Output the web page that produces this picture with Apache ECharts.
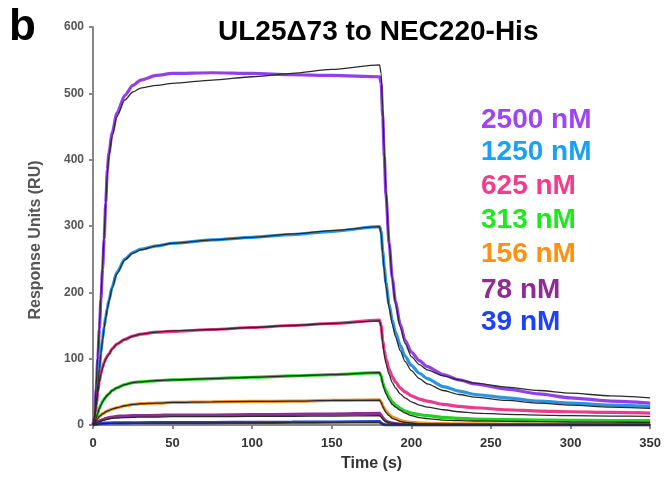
<!DOCTYPE html>
<html>
<head>
<meta charset="utf-8">
<script src="https://cdn.jsdelivr.net/npm/echarts@6/dist/echarts.min.js"></script>
<style>html,body{margin:0;padding:0;background:#fff;}#c{width:664px;height:482px;}</style>
</head>
<body>
<div id="c"></div>
<script>
// Time points (s)
const T = [0,1,2,3,4,5,6,7,8,9,10, 12,15,20,25,30, 40,50,75,100,125,150,180, 181,182,183,184,186,188,190, 193,196,200,205,210, 220,230,240,260,280,300,325,350];

// Concentration labels
const concLabels = ['2500 nM','1250 nM','625 nM','313 nM','156 nM','78 nM','39 nM'];

// Measured responses (RU)
const r2500 = [0,12,55,100,145,190,235,280,335,385,410, 440,470,497,512,520, 527,530,531,530,528,527,525, 515,465,405,348,275,222,186, 152,128,110,97,88, 76,68,62,54,47,41,36,33];
const r1250 = [0,5,30,60,85,110,130,148,163,176,188, 208,230,250,260,265, 270,274,279,283,287,292,299, 292,262,238,215,182,158,140, 120,104,90,78,70, 58,51,46,41,36,33,30,28];
const r625  = [0,10,30,50,66,78,87,94,100,104,107, 115,122,129,134,137, 140,141,144,147,150,153,158, 150,128,112,100,84,73,65, 56,50,44,39,36, 31,28,26,23,21,20,19,18];
const r313  = [0,3,10,18,25,31,35,39,42,45,47, 52,56,61,64,65, 67,68,70,72,74,76,79, 74,64,57,51,42,35,30, 25,21,18,15.5,14, 11.5,10,9,8,7.5,7,6.7,6.5];
const r156  = [0,2,6,10,13,15,17,18,20,21,22, 24,26,29,31,32, 33,34,35,35.5,36,37,38, 35,29,25,21,16,12,10, 7,5,4,3,2.5, 2,1.8,1.6,1.5,1.4,1.3,1.2,1.2];
const r78   = [0,1,3,5,6,7,8,9,10,10.5,11, 12,13,13.5,14,14, 14.5,15,15,15.5,16,16.5,17.5, 15,11,8,6,4,3,2, 1.5,1,0.8,0.6,0.5, 0.5,0.5,0.5,0.5,0.5,0.5,0.5,0.5];
const r39   = [0,0.5,1,1.5,2,2.3,2.5,2.7,2.8,2.9,3, 3.1,3.2,3.3,3.4,3.4, 3.5,3.5,3.7,4,4.2,4.5,5, 3,1.5,0.5,0.2,0,0,0, 0,0,0,0,0, 0,0,0,0,0,0,0,0];

// Fitted curves (RU)
const f2500 = [0,15,60,105,150,195,240,285,335,378,405, 435,465,490,502,508, 512,515,520,525,530,536,543, 530,478,412,355,275,220,182, 148,123,103,91,83, 74,68,63,57,52,48,44,41];
const f1250 = [0,8,32,60,85,108,128,146,161,175,186, 206,228,249,259,264, 270,274,279,283,288,293,299, 288,258,232,210,177,152,133, 112,96,82,70,62, 52,46,42,37,33,30,27,25];
const f625  = [0,9,29,49,65,77,86,93,99,103,107, 114,122,129,134,137, 140,142,144,147,150,153,157, 148,124,106,93,76,64,56, 47,41,35,30,27, 23,20,18,16,15,14,13.5,13];
const f313  = [0,3,10,18,25,30,35,39,42,45,47, 52,56,61,64,65, 67,68,70,72,74,76,79, 73,62,54,47,38,31,27, 22,18,14,11,9.5, 7.5,6.5,6,5.5,5,4.5,4.2,4];
const f156  = [0,2,6,10,13,15,17,18,20,21,22, 24,26,29,31,32, 33,34,35,35.5,36,37,37.5, 34,28,23,19,14,10,8, 5.5,4,3,2,1.5, 1,0.8,0.6,0.5,0.5,0.4,0.4,0.3];
const f78   = [0,1,2.5,4,5,6,7,7.5,8,8.5,9, 10,10.5,11,11.5,12, 12,12.5,12.5,13,13,13.5,14, 12,9,6.5,5,3.5,2.5,2, 1.5,1,0.8,0.6,0.5, 0.4,0.4,0.3,0.3,0.3,0.3,0.3,0.3];
const f39   = [0,0.4,0.8,1.2,1.5,1.8,2,2.1,2.2,2.3,2.4, 2.5,2.6,2.7,2.8,2.8, 2.9,3,3.1,3.3,3.5,3.7,4, 2.5,1.2,0.5,0.2,0.1,0,0, 0,0,0,0,0, 0,0,0,0,0,0,0,0];

const measured = [r2500, r1250, r625, r313, r156, r78, r39];
const fits = [f2500, f1250, f625, f313, f156, f78, f39];

const lineColors = ['#9340EC','#2B95E0','#EC3A8C','#22D022','#F0922A','#8E2E95','#2040E0'];
const labelColors = ['#9E45F5','#1BA0F5','#F53C8C','#1EE81E','#FF9010','#8E2C94','#1E40FF'];

const toPts = arr => T.map((t, i) => [t, arr[i]]);

const series = [];
measured.forEach((arr, k) => {
  series.push({
    name: concLabels[k], type: 'line', data: toPts(arr), showSymbol: false,
    smooth: 0.25, smoothMonotone: 'x',
    lineStyle: { color: lineColors[k], width: 3.2 }, z: 2
  });
});
fits.forEach((arr, k) => {
  series.push({
    name: concLabels[k] + ' fit', type: 'line', data: toPts(arr), showSymbol: false,
    smooth: 0.25, smoothMonotone: 'x',
    lineStyle: { color: '#2a2a2a', width: 1.3 }, z: 3
  });
});

const graphics = [
  { type: 'text', left: 9, top: 6, style: { text: 'b', font: 'bold 44px "Liberation Sans", Arial, sans-serif', fill: '#000' } },
  { type: 'text', x: 36, y: 240, rotation: Math.PI / 2,
    style: { text: 'Response Units (RU)', font: 'bold 16px "Liberation Sans", Arial, sans-serif', fill: '#555', textAlign: 'center', textVerticalAlign: 'middle' } }
];
const legendY = [120, 152, 186, 220, 254, 290, 322];
concLabels.forEach((lab, k) => {
  graphics.push({ type: 'text', x: 481, y: legendY[k],
    style: { text: lab, font: 'bold 28px "Liberation Sans", Arial, sans-serif', fill: labelColors[k], textAlign: 'left', textVerticalAlign: 'middle' } });
});

const chart = echarts.init(document.getElementById('c'), null, { renderer: 'canvas' });
chart.setOption({
  animation: false,
  backgroundColor: '#fff',
  title: {
    text: 'UL25\u039473 to NEC220-His', left: 213, top: 13,
    textStyle: { fontFamily: '"Liberation Sans", Arial, sans-serif', fontSize: 28, fontWeight: 'bold', color: '#000' }
  },
  grid: { left: 93, right: 12, top: 27, bottom: 57 },
  xAxis: {
    type: 'value', min: 0, max: 350, interval: 50,
    name: 'Time (s)', nameLocation: 'middle', nameGap: 31,
    nameTextStyle: { fontFamily: '"Liberation Sans", Arial, sans-serif', fontSize: 16, fontWeight: 'bold', color: '#333' },
    axisLine: { show: true, onZero: false, lineStyle: { color: '#888', width: 2 } },
    axisTick: { show: true, inside: false, length: 4, lineStyle: { color: '#888', width: 2 } },
    axisLabel: { margin: 12, fontFamily: '"Liberation Sans", Arial, sans-serif', fontSize: 13, fontWeight: 'bold', color: '#333' },
    splitLine: { show: false }
  },
  yAxis: {
    type: 'value', min: 0, max: 600, interval: 100,
    axisLine: { show: true, lineStyle: { color: '#888', width: 2 } },
    axisTick: { show: true, inside: false, length: 4, lineStyle: { color: '#888', width: 2 } },
    axisLabel: { margin: 9, fontFamily: '"Liberation Sans", Arial, sans-serif', fontSize: 12, fontWeight: 'bold', color: '#555' },
    splitLine: { show: false }
  },
  graphic: graphics,
  series: series
});
</script>
</body>
</html>
